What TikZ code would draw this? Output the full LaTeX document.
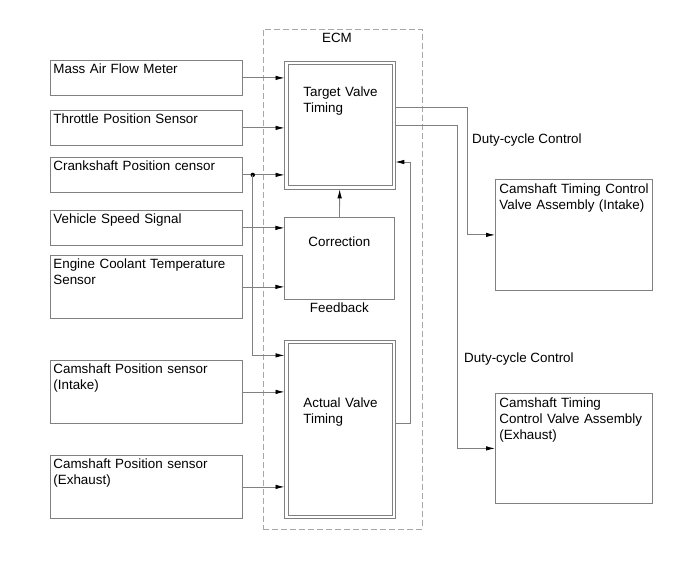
\documentclass[tikz,border=0pt]{standalone}
\usepackage{fontspec}
\setmainfont{Liberation Sans}
\usepackage{xcolor}
\usepackage{tikz}
\usetikzlibrary{arrows.meta, positioning}
\definecolor{linegray}{HTML}{808080}
\definecolor{dashgray}{HTML}{A8A8A8}

\begin{document}
\begin{tikzpicture}[x=1pt, y=-1pt,
            font=\fontsize{13.4}{16}\selectfont,
            inbox/.style={
                draw=linegray, line width=0.8pt,
                anchor=north west, align=left,
                text width=186pt, inner xsep=3pt, inner ysep=3pt,
                text height=9.7pt, text depth=#1},
            inbox/.default=19.3pt,
            outbox/.style={
                draw=linegray, line width=0.8pt,
                anchor=north west, align=left,
                text width=149pt, inner xsep=4pt, inner ysep=4.5pt,
                text height=9.8pt, text depth=#1},
            ecmbox/.style={
                draw=linegray, line width=0.8pt,
                anchor=north west, align=left,
                text width=73pt, inner xsep=15.5pt, inner ysep=3pt},
            conn/.style={->, draw=linegray, line width=0.8pt},
            >={Latex[length=9pt, width=4.5pt, color=black]}]
            \useasboundingbox (0,0) rectangle (691,564);
            % ECM frame
            \node[draw=dashgray, line width=0.8pt, dash pattern=on 6pt off 3pt,
                anchor=north west, minimum width=159pt, minimum height=500pt] (ecm) at (263,29) {};
            \node[anchor=base] (ecmlbl) at (337,43) {ECM};
            % inputs
            \node[inbox] (maf) at (50,60) {Mass Air Flow Meter};
            \node[inbox] (tps) at (50,110) {Throttle Position Sensor};
            \node[inbox] (ckp) at (50,157) {Crankshaft Position censor};
            \node[inbox] (vss) at (50,210) {Vehicle Speed Signal};
            \node[inbox=47.3pt] (ect) at (50,255) {\mbox{Engine Coolant Temperature}\\Sensor};
            \node[inbox=47.3pt] (cmpi) at (50,360) {\mbox{Camshaft Position sensor}\\(Intake)};
            \node[inbox=47.3pt] (cmpe) at (50,455) {\mbox{Camshaft Position sensor}\\(Exhaust)};
            % ECM blocks (inner line is the node, outer line drawn round it)
            \node[ecmbox, text height=29pt, text depth=86.5pt] (tvt) at (287.5,64) {\mbox{Target Valve}\\Timing};
            \draw[linegray, line width=0.8pt] ([shift={(-3pt,3pt)}]tvt.north west) rectangle ([shift={(3pt,-3pt)}]tvt.south east);
            \node[draw=linegray, line width=0.8pt, anchor=north west, align=center,
                text width=101.2pt, inner xsep=4pt, inner ysep=3pt,
                text height=26pt, text depth=50pt] (corr) at (284.4,217.4) {Correction};
            \node[below=2.5pt of corr, inner sep=0pt] (fbk) {Feedback};
            \node[ecmbox, text height=61.3pt, text depth=104.7pt] (act) at (287.5,343) {\mbox{Actual Valve}\\Timing};
            \draw[linegray, line width=0.8pt] ([shift={(-3pt,3pt)}]act.north west) rectangle ([shift={(3pt,-3pt)}]act.south east);
            % outputs
            \node[outbox=92.2pt] (cvi) at (495,179) {\mbox{Camshaft Timing Control}\\\mbox{Valve Assembly (Intake)}};
            \node[outbox=91.2pt] (cve) at (495,393) {\mbox{Camshaft Timing}\\\mbox{Control Valve Assembly}\\(Exhaust)};
            \node[anchor=base west, inner sep=0pt] (dc1) at (472,144) {Duty-cycle Control};
            \node[anchor=base west, inner sep=0pt] (dc2) at (464,362) {Duty-cycle Control};
            % input connectors
            \draw[conn, shorten >=3pt] (maf.east) -- (maf.east -| tvt.west);
            \draw[conn, shorten >=3pt] (tps.east) -- (tps.east -| tvt.west);
            \draw[conn, shorten >=3pt] (ckp.east) -- (ckp.east -| tvt.west);
            \coordinate[right=10pt of ckp.east] (split);
            \fill (split) circle (2.2pt);
            \draw[conn, shorten >=3pt] (split) |- ([yshift=74pt]act.west);
            \draw[conn] (vss.east) -- (vss.east -| corr.west);
            \draw[conn] (ect.east) -- (ect.east -| corr.west);
            \draw[conn, shorten >=3pt] (cmpi.east) -- (cmpi.east -| act.west);
            \draw[conn, shorten >=3pt] (cmpe.east) -- (cmpe.east -| act.west);
            % inside the ECM
            \draw[conn, shorten >=3pt] (corr) -- (tvt);
            \coordinate (fb) at (410,162);
            \draw[conn, shorten <=3pt, shorten >=3pt] ([yshift=6pt]act.east) -| (fb) -- (fb -| tvt.east);
            % duty-cycle outputs
            \coordinate (k1) at (467,107);
            \coordinate (k2) at (457,125);
            \draw[conn, shorten <=3pt] (tvt.east |- k1) -- (k1) |- (cvi.west);
            \draw[conn, shorten <=3pt] (tvt.east |- k2) -- (k2) |- (cve.west);
        \end{tikzpicture}
\end{document}
